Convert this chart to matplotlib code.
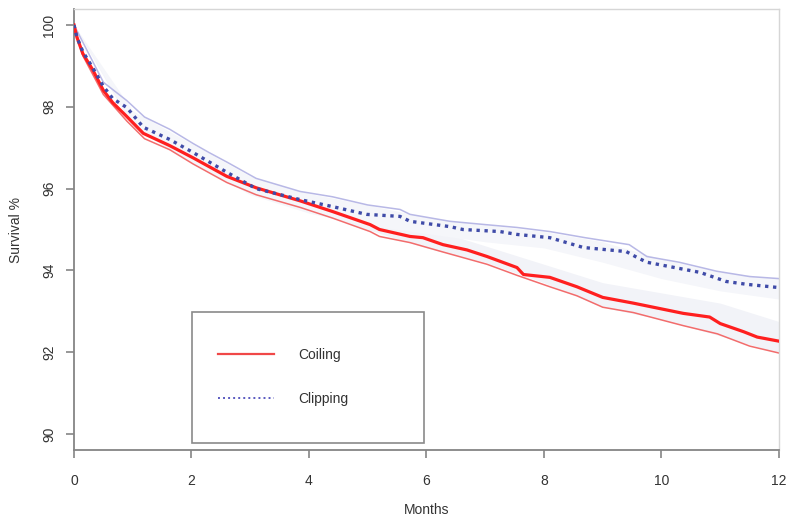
"""Kaplan-Meier style survival curves: coiling vs clipping, 12 months."""

import matplotlib

matplotlib.use("Agg")
import matplotlib.pyplot as plt
from matplotlib.lines import Line2D
from matplotlib.patches import Rectangle

plt.rcParams["font.family"] = ["Liberation Sans", "DejaVu Sans"]

# --- data (months, survival %) ---
coil_t = [0, 0.05, 0.15, 0.32, 0.5, 0.66, 0.9, 1.18, 1.63, 2.03, 2.6, 3.1, 3.85, 4.4,
          5.04, 5.2, 5.72, 5.94, 6.28, 6.69, 7.03, 7.54, 7.65, 8.1, 8.56, 9.0, 9.52,
          10.37, 10.82, 11.0, 11.4, 11.63, 12]
coil_v = [100, 99.7, 99.3, 98.9, 98.4, 98.1, 97.76, 97.35, 97.05, 96.75, 96.3, 96.02,
          95.7, 95.44, 95.12, 95.0, 94.83, 94.8, 94.63, 94.5, 94.34, 94.07, 93.9, 93.83,
          93.6, 93.34, 93.2, 92.95, 92.86, 92.7, 92.5, 92.37, 92.27]

coil_lo_t = [0, 0.15, 0.5, 0.9, 1.2, 1.63, 2.03, 2.6, 3.1, 3.85, 4.4, 5.04, 5.2, 5.72,
             6.28, 7.03, 7.54, 8.1, 8.56, 9.0, 9.52, 10.37, 10.95, 11.5, 12]
coil_lo_v = [100, 99.25, 98.3, 97.65, 97.22, 96.95, 96.6, 96.15, 95.85, 95.54, 95.28,
             94.95, 94.83, 94.68, 94.45, 94.15, 93.88, 93.6, 93.38, 93.1, 92.97, 92.65,
             92.45, 92.15, 91.98]

clip_t = [0, 0.05, 0.15, 0.32, 0.5, 0.66, 0.9, 1.18, 1.63, 2.03, 2.6, 3.1, 3.85, 4.4,
          4.98, 5.55, 5.72, 6.4, 6.62, 7.25, 7.54, 8.1, 8.67, 9.4, 9.58, 9.75, 10.66,
          11.1, 11.45, 12]
clip_v = [100, 99.7, 99.35, 98.95, 98.5, 98.2, 97.98, 97.5, 97.2, 96.88, 96.4, 96.0,
          95.73, 95.56, 95.37, 95.32, 95.2, 95.07, 95.0, 94.95, 94.88, 94.8, 94.56,
          94.46, 94.32, 94.2, 93.95, 93.73, 93.66, 93.58]

clip_hi_t = [0, 0.5, 0.9, 1.2, 1.63, 2.03, 2.3, 2.6, 3.1, 3.85, 4.4, 5.0, 5.55, 5.72,
             6.4, 7.0, 7.54, 8.1, 8.7, 9.45, 9.75, 10.3, 10.94, 11.5, 12]
clip_hi_v = [100, 98.6, 98.15, 97.75, 97.45, 97.1, 96.88, 96.65, 96.25, 95.93, 95.8,
             95.6, 95.49, 95.37, 95.2, 95.12, 95.05, 94.95, 94.8, 94.63, 94.34, 94.2,
             93.98, 93.85, 93.8]

# faint confidence shading, sampled at whole months
band_t = [0, 1, 2, 3, 4, 5, 6, 7, 8, 9, 10, 11, 12]
coil_band_lo = [100, 97.5, 96.65, 96.0, 95.5, 95.0, 94.55, 94.2, 93.7, 93.1, 92.8, 92.4, 91.98]
coil_band_hi = [100, 97.75, 96.95, 96.3, 95.85, 95.4, 95.05, 94.6, 94.15, 93.7, 93.45, 93.2, 92.75]
clip_band_lo = [100, 97.55, 96.65, 95.85, 95.4, 95.1, 94.9, 94.7, 94.55, 94.2, 93.8, 93.5, 93.3]
clip_band_hi = [100, 97.9, 97.1, 96.3, 95.88, 95.6, 95.3, 95.12, 94.95, 94.7, 94.28, 93.96, 93.8]

x_ticks = [0, 2, 4, 6, 8, 10, 12]
y_ticks = [90, 92, 94, 96, 98, 100]

AXIS_GREY = "#858585"
TEXT = "#333333"

fig = plt.figure(figsize=(7.94, 5.25), dpi=100, facecolor="white")
ax = fig.add_axes([0.0932, 0.1421, 0.8879, 0.8415])

ax.fill_between(band_t, coil_band_lo, coil_band_hi, color="#f2f3f8", lw=0, zorder=1)
ax.fill_between(band_t, clip_band_lo, clip_band_hi, color="#f5f6fa", lw=0, zorder=1)

ax.plot(coil_lo_t, coil_lo_v, color="#f26c6c", lw=1.1, zorder=2)
ax.plot(clip_hi_t, clip_hi_v, color="#b8b8e6", lw=1.1, zorder=2)
ax.plot(coil_t, coil_v, color="#ff1f1f", lw=2.3, zorder=3)
ax.plot(clip_t, clip_v, color="#3f4ba8", lw=2.4, ls=(0, (1.0, 1.4)),
        dash_capstyle="butt", zorder=4)

ax.set_xlim(0, 12)
ax.set_ylim(89.6, 100.4)
ax.set_xticks(x_ticks)
ax.set_yticks(y_ticks)
ax.tick_params(axis="both", length=6, width=1.2, color=AXIS_GREY,
               labelcolor=TEXT, labelsize=10)
ax.tick_params(axis="x", pad=11)
ax.tick_params(axis="y", pad=7, labelrotation=90)
for lab in ax.get_yticklabels():
    lab.set_va("center")

for side in ("left", "bottom"):
    ax.spines[side].set_color(AXIS_GREY)
    ax.spines[side].set_linewidth(1.3)
for side in ("top", "right"):
    ax.spines[side].set_color("#d6d6d6")
    ax.spines[side].set_linewidth(1.0)

ax.set_xlabel("Months", fontsize=10, color=TEXT)
ax.set_ylabel("Survival %", fontsize=10, color=TEXT)
ax.xaxis.set_label_coords(0.5, -0.12)
ax.yaxis.set_label_coords(-0.073, 0.5)

# legend: frame drawn separately so it can be roomier than the entries
ax.add_patch(Rectangle((0.1674, 0.0167), 0.3291, 0.2966, transform=ax.transAxes,
                       fill=False, ec="#8a8a8a", lw=1.2, zorder=5))
handles = [
    Line2D([], [], color="#f04848", lw=1.6),
    Line2D([], [], color="#5a5ac0", lw=1.4, ls=(0, (1.0, 1.6))),
]
ax.legend(handles, ["Coiling", "Clipping"], loc="upper left",
          bbox_to_anchor=(0.2043, 0.2318), frameon=False, borderpad=0,
          borderaxespad=0, labelspacing=2.16, handlelength=4.0,
          handletextpad=1.75, fontsize=10, labelcolor=TEXT)

fig.savefig("out.png", dpi=100, facecolor="white")
